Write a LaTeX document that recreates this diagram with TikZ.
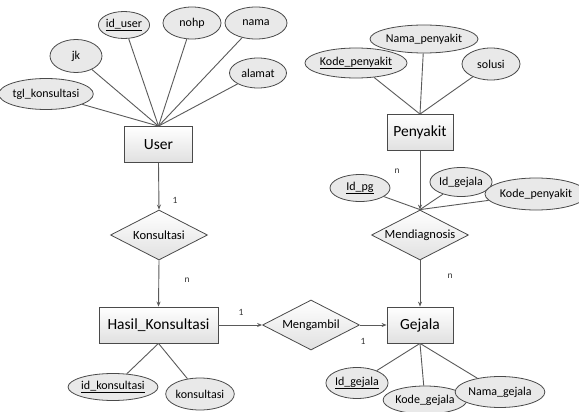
\documentclass[tikz,border=0pt]{standalone}
\usepackage{fontspec}
\setmainfont{Carlito}
\usetikzlibrary{shapes.geometric,arrows.meta}
\definecolor{linec}{HTML}{5A5A5A}
\definecolor{borderc}{HTML}{4A4A4A}
\definecolor{ellfill}{HTML}{E9E9E9}
\tikzset{
  ent/.style={draw=borderc,line width=0.8pt,top color=white,bottom color=black!12,
    minimum width=#1,minimum height=36pt,inner sep=0pt,font=\fontsize{15.5}{17}\selectfont},
  rel/.style={diamond,draw=borderc,line width=0.8pt,top color=white,bottom color=black!12,
    aspect=2,inner sep=0pt,minimum width=97pt,minimum height=50pt,font=\fontsize{12.5}{14}\selectfont},
  attr/.style 2 args={ellipse,draw=borderc,line width=0.8pt,fill=ellfill,inner sep=0pt,
    minimum width=#1,minimum height=#2,font=\fontsize{12}{13}\selectfont},
  conn/.style={draw=linec,line width=0.9pt},
  arr/.style={conn,-{Stealth[length=5pt,width=4pt]}},
  card/.style={font=\fontsize{9.5}{11}\selectfont,text=black!80,inner sep=0pt}
}
\begin{document}
\begin{tikzpicture}[x=1pt,y=-1pt]
\useasboundingbox[fill=white] (0,0) rectangle (579,412);
% entities
\node[ent=68pt] (user) at (158.5,144.5) {User};
\node[ent=66pt] (peny) at (420,132.5) {Penyakit};
\node[ent=66pt] (gej) at (420,325) {Gejala};
\node[ent=119pt] (hasil) at (158.5,325) {Hasil\_Konsultasi};
% relations
\node[rel] (kons) at (159,235) {Konsultasi};
\node[rel] (mend) at (420,235) {Mendiagnosis};
\node[rel] (meng) at (311,325) {Mengambil};
% user attributes
\node[attr={50pt}{27pt}] (iduser) at (124,25) {\underline{id\_user}};
\node[attr={58pt}{32pt}] (nohp) at (192,23) {nohp};
\node[attr={62pt}{32pt}] (nama) at (256,23) {nama};
\node[attr={52pt}{33pt}] (jk) at (76,56) {jk};
\node[attr={57pt}{30pt}] (alamat) at (258,73) {alamat};
\node[attr={84pt}{31pt}] (tgl) at (46,94) {tgl\_konsultasi};
\foreach \a in {iduser,nohp,nama,jk,alamat,tgl}
  \draw[conn] (\a) -- (user.north);
% penyakit attributes
\node[attr={77pt}{30pt}] (kodep) at (356,63) {\underline{Kode\_penyakit}};
\node[attr={83pt}{28pt}] (namap) at (424,39) {Nama\_penyakit};
\node[attr={58pt}{32pt}] (solusi) at (491,64) {solusi};
\foreach \a in {kodep,namap,solusi}
  \draw[conn] (\a) -- (peny.north);
% mendiagnosis attributes
\node[attr={60pt}{27pt}] (idpg) at (360,188) {\underline{Id\_pg}};
\node[attr={58pt}{29pt}] (idgm) at (461,182) {Id\_gejala};
\node[attr={79pt}{32pt}] (kodepm) at (536,194) {Kode\_penyakit};
\foreach \a in {idpg,idgm,kodepm}
  \draw[conn] (\a) -- (mend.north);
% gejala attributes
\node[attr={60pt}{31pt}] (idg) at (357,383) {\underline{Id\_gejala}};
\node[attr={62pt}{28pt}] (kodeg) at (425,400) {Kode\_gejala};
\node[attr={76pt}{31pt}] (namag) at (500,392) {Nama\_gejala};
\foreach \a in {idg,kodeg,namag}
  \draw[conn] (gej.south) -- (\a);
% hasil attributes
\node[attr={73pt}{27pt}] (idk) at (113,387) {\underline{id\_konsultasi}};
\node[attr={60pt}{32pt}] (konsa) at (200,394) {konsultasi};
\foreach \a in {idk,konsa}
  \draw[conn] (hasil.south) -- (\a);
% relationship arrows
\draw[arr] (user.south) -- (kons.north);
\draw[arr] (kons.south) -- (hasil.north);
\draw[arr] (peny.south) -- (mend.north);
\draw[arr] (mend.south) -- (gej.north);
\draw[arr] (hasil.east) -- (meng.west);
\draw[arr] (meng.east) -- (gej.west);
% cardinalities
\node[card] (c1) at (175,200) {1};
\node[card] (c2) at (187,280) {n};
\node[card] (c3) at (241,312) {1};
\node[card] (c4) at (363,341) {1};
\node[card] (c5) at (450,276) {n};
\node[card] (c6) at (397,171) {n};
\end{tikzpicture}
\end{document}
